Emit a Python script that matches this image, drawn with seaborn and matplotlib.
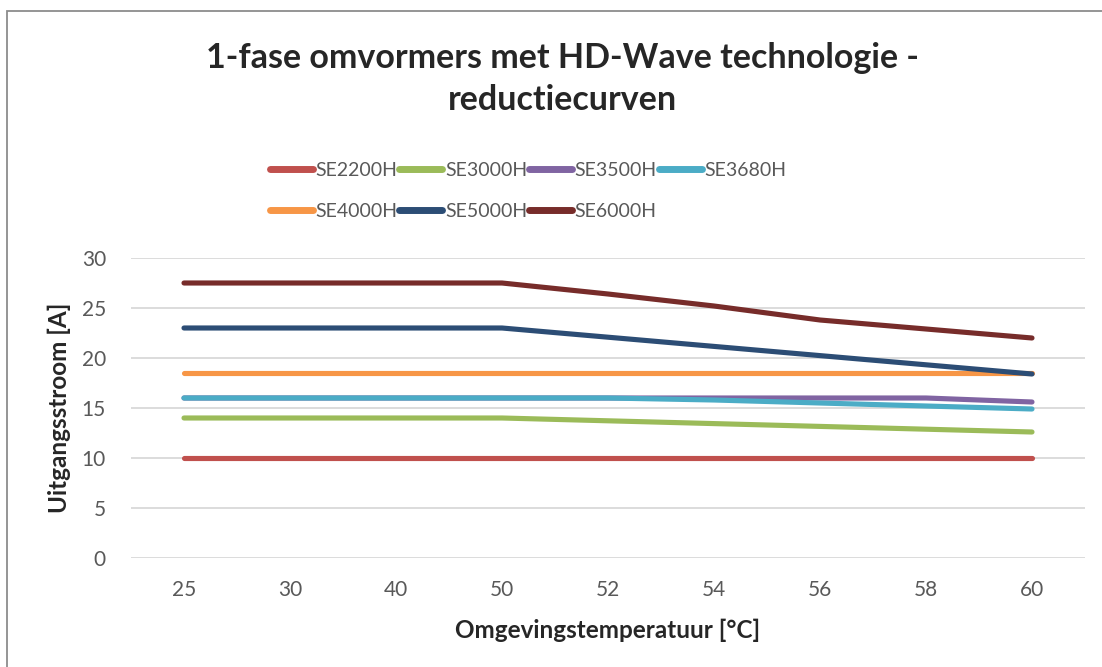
import matplotlib
matplotlib.use("Agg")
import matplotlib.pyplot as plt
from matplotlib.patches import Rectangle
import pandas as pd
import seaborn as sns

# data
temps = ["25", "30", "40", "50", "52", "54", "56", "58", "60"]
se2200h = [10, 10, 10, 10, 10, 10, 10, 10, 10]
se3000h = [14, 14, 14, 14, 13.72, 13.44, 13.16, 12.88, 12.6]
se3500h = [16, 16, 16, 16, 16, 16, 16, 16, 15.6]
se3680h = [16, 16, 16, 16, 16, 15.8, 15.5, 15.2, 14.9]
se4000h = [18.5, 18.5, 18.5, 18.5, 18.5, 18.5, 18.5, 18.5, 18.5]
se5000h = [23, 23, 23, 23, 22.08, 21.16, 20.24, 19.32, 18.4]
se6000h = [27.5, 27.5, 27.5, 27.5, 26.4, 25.2, 23.8, 22.9, 22.0]

series = {
    "SE2200H": se2200h,
    "SE3000H": se3000h,
    "SE3500H": se3500h,
    "SE3680H": se3680h,
    "SE4000H": se4000h,
    "SE5000H": se5000h,
    "SE6000H": se6000h,
}
colors = ["#C0504D", "#9BBB59", "#8064A2", "#4BACC6", "#F79646", "#2C4D75", "#772C2A"]

rows = []
for name, vals in series.items():
    for i, v in enumerate(vals):
        rows.append({"pos": i, "value": v, "model": name})
df = pd.DataFrame(rows)

sns.set_style("white")
plt.rcParams["font.family"] = ["Lato", "DejaVu Sans"]

fig = plt.figure(figsize=(11.02, 6.67), dpi=100)
ax = fig.add_axes([131 / 1102, 109 / 667, 954 / 1102, 300 / 667])

sns.lineplot(data=df, x="pos", y="value", hue="model", palette=colors,
             linewidth=3.7, ax=ax, legend=True, solid_capstyle="round",
             clip_on=False)

ax.set_xlim(-0.5, len(temps) - 0.5)
ax.set_ylim(0, 30)
ax.set_xticks(range(len(temps)))
ax.set_xticklabels(temps)
ax.set_yticks(range(0, 31, 5))
ax.yaxis.grid(True, color="#D9D9D9", linewidth=1.3)
ax.set_axisbelow(True)
for s in ax.spines.values():
    s.set_visible(False)
ax.tick_params(axis="both", length=0, labelsize=15, labelcolor="#595959")
ax.tick_params(axis="x", pad=16)
ax.tick_params(axis="y", pad=18)

ax.set_xlabel("Omgevingstemperatuur [°C]", fontsize=17.5, fontweight="bold", va="center")
ax.set_ylabel("Uitgangsstroom [A]", fontsize=17.5, fontweight="bold", va="center")
ax.xaxis.set_label_coords(0.5, -0.24)
ax.yaxis.set_label_coords(-0.075, 0.5)

fig.text(0.51, 1 - 79 / 667, "1-fase omvormers met HD-Wave technologie -\nreductiecurven",
         ha="center", va="center", fontsize=24.5, fontweight="bold", linespacing=1.35)

handles, labels = ax.get_legend_handles_labels()
ax.get_legend().remove()
for h in handles:
    h.set_linewidth(5)
    h.set_solid_capstyle("round")
# matplotlib fills legend columns first; reorder so rows read left to right
order = [0, 4, 1, 5, 2, 6, 3]
fig.legend([handles[i] for i in order], [labels[i] for i in order],
           loc="upper left", bbox_to_anchor=(260 / 1102, 1 - 152 / 667),
           ncol=4, frameon=False, fontsize=14, labelcolor="#595959",
           handlelength=2.2, handletextpad=0.15, columnspacing=0.1,
           labelspacing=1.25, borderpad=0)

fig.patches.append(Rectangle((7 / 1102, -0.1), 1.2, 1 - 11 / 667 + 0.1,
                             transform=fig.transFigure, fill=False,
                             edgecolor="#8C8C8C", linewidth=1.3))

fig.savefig("out.png", dpi=100, facecolor="white")
